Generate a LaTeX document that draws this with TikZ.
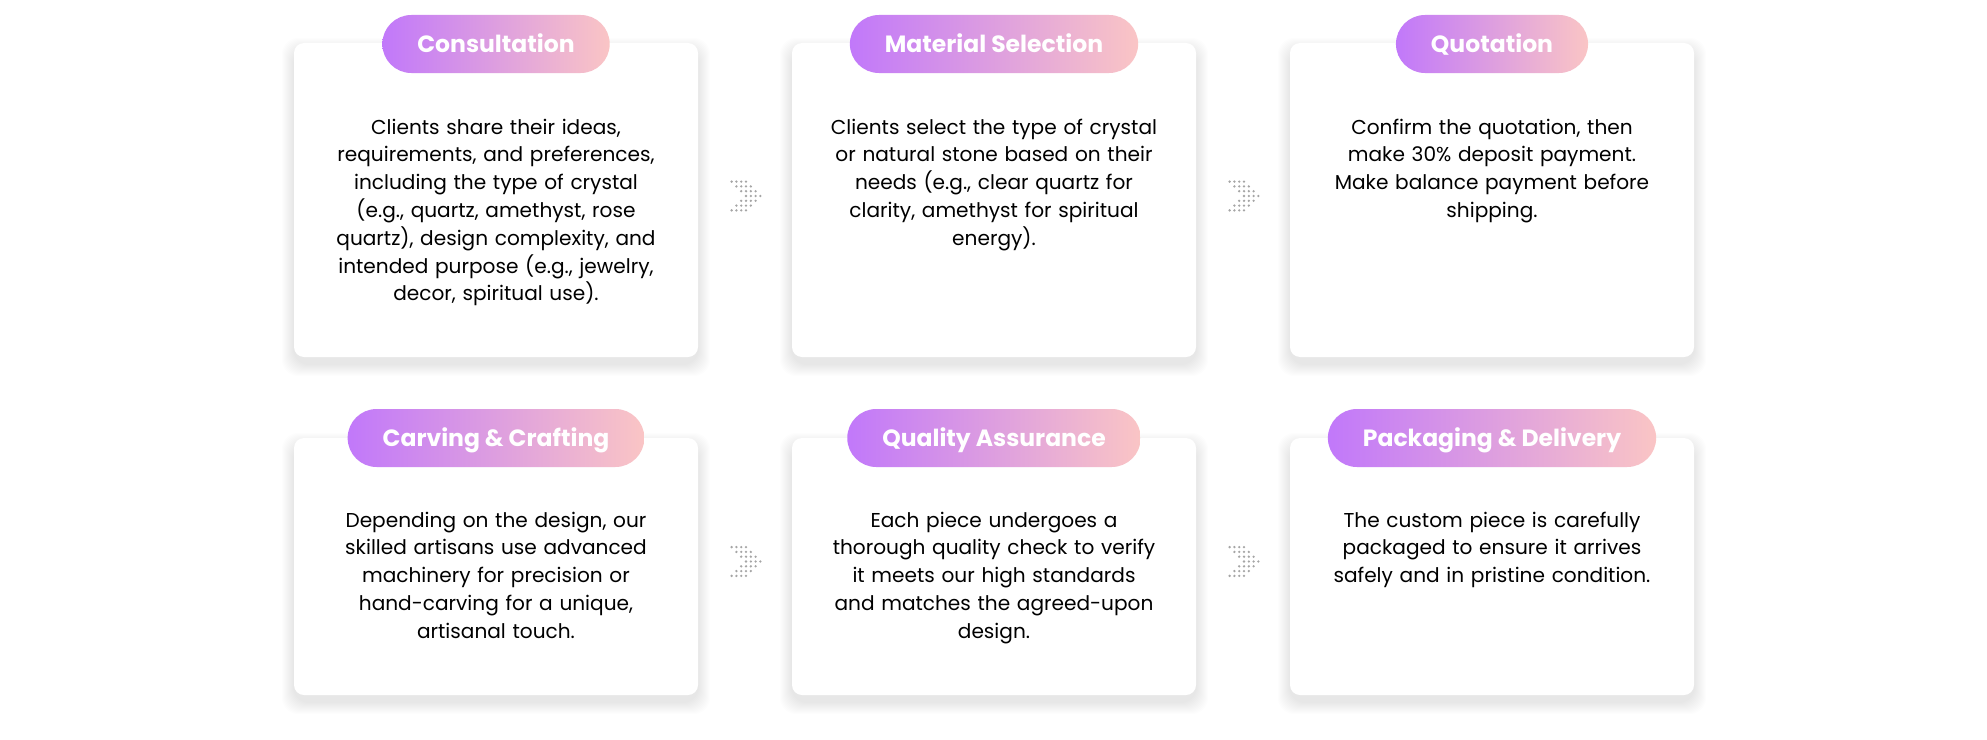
\documentclass[tikz,border=0pt]{standalone}
\usepackage{fontspec}
\setmainfont{Poppins}
\usetikzlibrary{calc}
\definecolor{pillL}{RGB}{193,120,250}
\definecolor{pillR}{RGB}{250,197,197}
\definecolor{dotc}{RGB}{165,165,165}
\tikzset{
  card/.style={fill=white, rounded corners=10bp, inner sep=0, minimum width=404bp},
  pill/.style={rounded corners=29bp, left color=pillL, right color=pillR, minimum height=58bp,
    inner xsep=35bp, inner ysep=0, text=white, font=\fontsize{23.5bp}{27bp}\selectfont\bfseries,
    text height=16.5bp, text depth=0bp},
  desc/.style={anchor=north, text width=390bp, align=center, inner sep=0,
    font=\fontsize{20.1bp}{27.8bp}\selectfont, text=black},
  shadowlayer/.style={fill=black, opacity=0.007, rounded corners=16bp}
}
\newcommand\softshadow[4]{%
  \foreach \i in {1,...,12}{%
    \path[shadowlayer] (#1-\i,#2-\i+7) rectangle (#3+\i,#4+\i+7);
  }}
\newcommand\chevron[1]{%
  \foreach \r in {0,...,6}{%
    \pgfmathtruncatemacro\sh{min(\r,6-\r)}%
    \foreach \c in {0,...,3}{%
      \fill[dotc] ($(#1)+(4.8*\sh+4.8*\c-14.4,4.8*\r-14.4)$) circle (1.3);
    }}}
\begin{document}
\begin{tikzpicture}[x=1bp,y=-1bp]
\useasboundingbox[fill=white] (0,0) rectangle (1987,740);

% shadows
\softshadow{294}{43}{698}{357}
\softshadow{792}{43}{1196}{357}
\softshadow{1290}{43}{1694}{357}
\softshadow{294}{438}{698}{695}
\softshadow{792}{438}{1196}{695}
\softshadow{1290}{438}{1694}{695}

% cards
\node[card, minimum height=314bp] (c1) at (496,200) {};
\node[card, minimum height=314bp] (c2) at (994,200) {};
\node[card, minimum height=314bp] (c3) at (1492,200) {};
\node[card, minimum height=257bp] (c4) at (496,566.5) {};
\node[card, minimum height=257bp] (c5) at (994,566.5) {};
\node[card, minimum height=257bp] (c6) at (1492,566.5) {};

% pills
\node[pill] (p1) at (496,44) {Consultation};
\node[pill] (p2) at (994,44) {Material Selection};
\node[pill] (p3) at (1492,44) {Quotation};
\node[pill] (p4) at (496,438) {Carving \& Crafting};
\node[pill] (p5) at (994,438) {Quality Assurance};
\node[pill] (p6) at (1492,438) {Packaging \& Delivery};

% descriptions
\node[desc] (t1) at (496,114.5) {\strut Clients share their ideas,\\requirements, and preferences,\\including the type of crystal\\(e.g., quartz, amethyst, rose\\quartz), design complexity, and\\intended purpose (e.g., jewelry,\\decor, spiritual use).};
\node[desc] (t2) at (994,114.5) {\strut Clients select the type of crystal\\or natural stone based on their\\needs (e.g., clear quartz for\\clarity, amethyst for spiritual\\energy).};
\node[desc] (t3) at (1492,114.5) {\strut Confirm the quotation, then\\make 30\% deposit payment.\\Make balance payment before\\shipping.};
\node[desc] (t4) at (496,507.5) {\strut Depending on the design, our\\skilled artisans use advanced\\machinery for precision or\\hand-carving for a unique,\\artisanal touch.};
\node[desc] (t5) at (994,507.5) {\strut Each piece undergoes a\\thorough quality check to verify\\it meets our high standards\\and matches the agreed-upon\\design.};
\node[desc] (t6) at (1492,507.5) {\strut The custom piece is carefully\\packaged to ensure it arrives\\safely and in pristine condition.};

% chevrons between cards
\coordinate (a1) at ($(c1.east)!0.5!(c2.west)+(1,-4)$);
\coordinate (a2) at ($(c2.east)!0.5!(c3.west)+(1,-4)$);
\coordinate (a3) at ($(c4.east)!0.5!(c5.west)+(1,-5)$);
\coordinate (a4) at ($(c5.east)!0.5!(c6.west)+(1,-5)$);
\chevron{a1}
\chevron{a2}
\chevron{a3}
\chevron{a4}
\end{tikzpicture}
\end{document}
